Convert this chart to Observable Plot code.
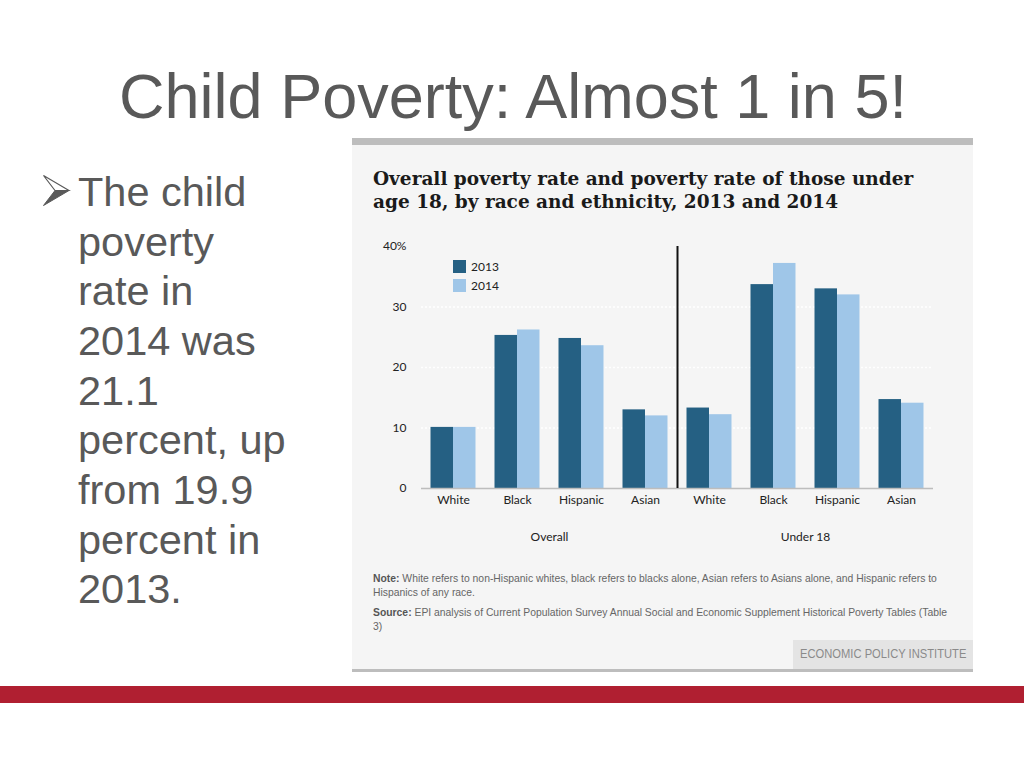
<!DOCTYPE html>
<html>
<head>
<meta charset="utf-8">
<script src="https://cdn.jsdelivr.net/npm/d3@7"></script>
<script src="https://cdn.jsdelivr.net/npm/@observablehq/plot@0.6"></script>
<style>
  html, body { margin: 0; padding: 0; background: #fff; }
  body { width: 1024px; height: 768px; position: relative; overflow: hidden; }
  .abs { position: absolute; }
  #slideTitle { left: 0; width: 1026px; top: 64.7px; text-align: center; font-family: "Liberation Sans", Arial, sans-serif; font-size: 63px; line-height: 63px; color: #595959; white-space: nowrap; }
  #bullet { left: 78px; top: 166.8px; font-family: "Liberation Sans", Arial, sans-serif; font-size: 41.5px; line-height: 49.7px; color: #595959; }
  #panel { left: 352px; top: 138px; width: 621px; height: 534px; background: #f5f5f5; border-top: 7px solid #bdbdbd; border-bottom: 3px solid #bdbdbd; box-sizing: border-box; }
  #chartTitle { left: 373px; top: 166.7px; font-family: "DejaVu Serif", serif; font-weight: bold; font-size: 18.5px; line-height: 23px; color: #1a1a1a; white-space: nowrap; }
  #plot { left: 352px; top: 226px; }
  #legend { left: 453px; top: 257px; font-family: Lato, "Open Sans", sans-serif; font-size: 12px; color: #222; }
  #legend .row { display: flex; align-items: center; height: 19px; }
  #legend .sw { width: 13px; height: 13px; margin-right: 5px; }
  #notes { left: 373px; top: 571px; font-family: "Liberation Sans", sans-serif; font-size: 11px; line-height: 14px; color: #666; transform: scaleX(0.942); transform-origin: 0 0; }
  #notes p { margin: 0 0 6px 0; white-space: nowrap; }
  #notes b { color: #555; }
  #epi { left: 793px; top: 640px; width: 180px; height: 29px; background: #e4e4e4; }
  #epi span { position: absolute; left: 7px; top: 0; font-family: "Liberation Sans", sans-serif; font-size: 12.5px; line-height: 29px; color: #8a8a8a; white-space: nowrap; transform: scaleX(0.895); transform-origin: 0 0; }
  #band { left: 0; top: 686px; width: 1024px; height: 17px; background: #b01f31; }
</style>
</head>
<body>
<div id="slideTitle" class="abs">Child Poverty: Almost 1 in 5!</div>
<svg class="abs" style="left:42px;top:174px" width="29" height="33" viewBox="0 0 29 33">
  <polygon points="1.5,1.5 27,16.5 13,16.5" fill="#fff" stroke="#595959" stroke-width="1.2"/>
  <polygon points="13,16.5 27,16.5 1.5,31.5" fill="#595959" stroke="#595959" stroke-width="1"/>
</svg>
<div id="bullet" class="abs">The child<br>poverty<br>rate in<br>2014 was<br>21.1<br>percent, up<br>from 19.9<br>percent in<br>2013.</div>

<div id="panel" class="abs"></div>
<div id="chartTitle" class="abs">Overall poverty rate and poverty rate of those under<br>age 18, by race and ethnicity, 2013 and 2014</div>
<div id="plot" class="abs"></div>
<div id="legend" class="abs"></div>
<div id="notes" class="abs">
  <p><b>Note:</b> White refers to non-Hispanic whites, black refers to blacks alone, Asian refers to Asians alone, and Hispanic refers to<br>Hispanics of any race.</p>
  <p><b>Source:</b> EPI analysis of Current Population Survey Annual Social and Economic Supplement Historical Poverty Tables (Table<br>3)</p>
</div>
<div id="epi" class="abs"><span>ECONOMIC POLICY INSTITUTE</span></div>
<div id="band" class="abs"></div>

<script>
// ---- data ----
const groups = ["Overall", "Under 18"];
const races = ["White", "Black", "Hispanic", "Asian"];
const years = ["2013", "2014"];
const yearColors = ["#256083", "#9fc6e8"];
const overall2013 = [10.1, 25.3, 24.8, 13.0];
const overall2014 = [10.1, 26.2, 23.6, 12.0];
const under2013 = [13.3, 33.7, 33.0, 14.7];
const under2014 = [12.2, 37.2, 32.0, 14.1];
const yTicks = [0, 10, 20, 30, 40];
const gridTicks = [10, 20, 30];

const series = {
  "Overall": {"2013": overall2013, "2014": overall2014},
  "Under 18": {"2013": under2013, "2014": under2014}
};
const rows = [];
for (const g of groups) for (const y of years) races.forEach((r, i) => {
  rows.push({key: g + "|" + r, group: g, race: r, year: y, value: series[g][y][i]});
});
const keys = groups.flatMap(g => races.map(r => g + "|" + r));

const chart = Plot.plot({
  width: 621,
  height: 334,
  marginLeft: 69,
  marginRight: 40,
  marginTop: 20,
  marginBottom: 72,
  style: {background: "transparent", fontFamily: "Lato, 'Open Sans', sans-serif", fontSize: "12px", color: "#222"},
  x: {domain: keys, paddingInner: 0.297, paddingOuter: 0.1485, round: false, tickSize: 0, tickPadding: 7, tickFormat: k => k.split("|")[1], label: null},
  y: {domain: [0, 40], ticks: yTicks, tickSize: 0, tickPadding: 15, tickFormat: d => d === 40 ? "40%" : String(d), label: null},
  color: {domain: years, range: yearColors},
  marks: [
    Plot.ruleY(gridTicks, {stroke: "#ffffff", strokeWidth: 1.5, strokeDasharray: "2,2"}),
    Plot.barY(rows.filter(d => d.year === "2013"), {x: "key", y: "value", fill: "year", insetRight: 22.5}),
    Plot.barY(rows.filter(d => d.year === "2014"), {x: "key", y: "value", fill: "year", insetLeft: 22.5}),
    Plot.ruleY([0], {stroke: "#bdbdbd", strokeWidth: 1.5}),
    Plot.ruleX(["Under 18|White"], {x: d => d, y1: 0, y2: 40, dx: -32, stroke: "#111", strokeWidth: 2}),
    Plot.text(groups, {x: g => g + "|Hispanic", y: 0, dx: -32, dy: 49, text: d => d, fontSize: 12, fill: "#222"})
  ]
});
document.getElementById("plot").appendChild(chart);

// legend
const legend = document.getElementById("legend");
years.forEach((y, i) => {
  const row = document.createElement("div");
  row.className = "row";
  const sw = document.createElement("div");
  sw.className = "sw";
  sw.style.background = yearColors[i];
  const t = document.createElement("span");
  t.textContent = y;
  row.appendChild(sw); row.appendChild(t);
  legend.appendChild(row);
});
</script>
</body>
</html>
